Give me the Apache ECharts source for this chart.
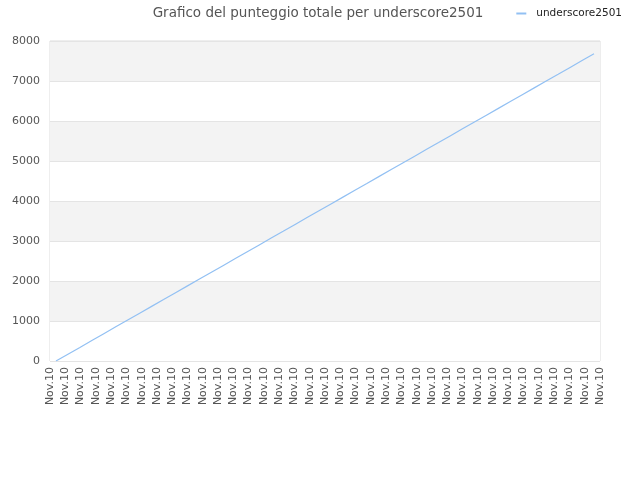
<!DOCTYPE html>
<html>
<head>
<meta charset="utf-8">
<script src="https://cdn.jsdelivr.net/npm/echarts@6/dist/echarts.min.js"></script>
<style>
  html, body { margin: 0; padding: 0; background: #fff; }
  #chart { width: 640px; height: 480px; }
</style>
</head>
<body>
<div id="chart"></div>
<script>
// etichette dell'asse x (tutte uguali nel grafico originale)
var dayLabels = [];
for (var i = 0; i < 37; i++) dayLabels.push('Nov.10');

// punteggio totale
var scores = [
    0, 170, 340, 512, 683, 854, 1024, 1195, 1366, 1536,
    1707, 1878, 2048, 2219, 2390, 2560, 2731, 2902, 3073, 3243,
    3414, 3585, 3755, 3926, 4097, 4268, 4438, 4609, 4780, 4950,
    5121, 5292, 5462, 5633, 5804, 5975, 6145, 6316, 6487, 6657,
    6828, 6999, 7169, 7340, 7511, 7682
];
var pointIdx = scores.map(function (v, i) { return i; });

var yTicks = [0, 1000, 2000, 3000, 4000, 5000, 6000, 7000, 8000];

var chart = echarts.init(document.getElementById('chart'));

chart.setOption({
    animation: false,
    textStyle: { fontFamily: 'DejaVu Sans' },
    title: {
        text: 'Grafico del punteggio totale per underscore2501',
        left: 313,
        top: 1,
        textAlign: 'center',
        textStyle: { fontSize: 13.5, fontWeight: 'normal', color: '#555' }
    },
    legend: {
        right: 13,
        top: 3,
        icon: 'rect',
        itemWidth: 10,
        itemHeight: 2,
        textStyle: { fontSize: 10.5, color: '#222', padding: [0, 0, 0, 5] },
        data: ['underscore2501']
    },
    grid: {
        left: 50,
        right: 40,
        top: 41,
        bottom: 119,
        show: true,
        borderColor: '#dcdcdc',
        borderWidth: 1
    },
    xAxis: [{
        type: 'category',
        data: dayLabels,
        boundaryGap: false,
        axisLine: { show: false },
        axisTick: { show: false },
        axisLabel: {
            interval: 0,
            rotate: 90,
            fontSize: 11,
            color: '#555',
            margin: 6
        }
    }, {
        type: 'category',
        data: pointIdx,
        boundaryGap: true,
        show: false
    }],
    yAxis: {
        type: 'value',
        min: yTicks[0],
        max: yTicks[yTicks.length - 1],
        interval: 1000,
        axisLine: { show: false },
        axisTick: { show: false },
        axisLabel: {
            fontSize: 11,
            color: '#555',
            margin: 10,
            formatter: function (v) { return String(v); }
        },
        splitLine: { lineStyle: { color: '#e4e4e4' } },
        splitArea: { show: true, areaStyle: { color: ['#ffffff', '#f3f3f3'] } }
    },
    series: [{
        name: 'underscore2501',
        type: 'line',
        xAxisIndex: 1,
        data: scores,
        showSymbol: false,
        lineStyle: { width: 1.2, color: '#92c0f3' },
        itemStyle: { color: '#92c0f3' }
    }]
});
</script>
</body>
</html>
